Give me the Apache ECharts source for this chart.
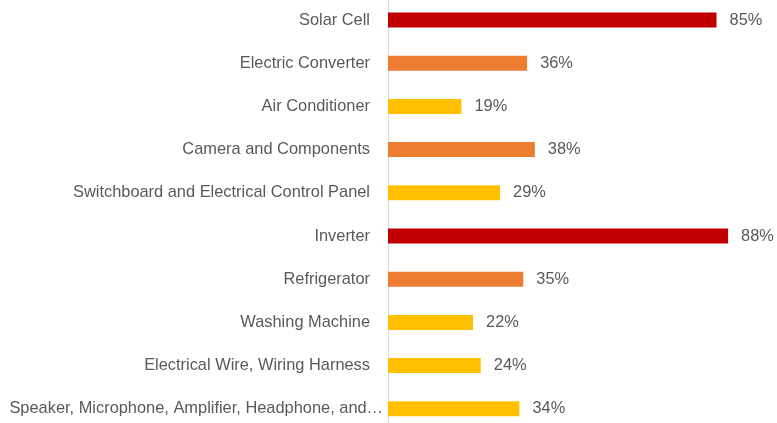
<!DOCTYPE html>
<html>
<head>
<meta charset="utf-8">
<script src="https://cdn.jsdelivr.net/npm/echarts@6/dist/echarts.min.js"></script>
<style>
  html, body { margin: 0; padding: 0; background: #fff; }
  #chart { width: 777px; height: 423px; }
</style>
</head>
<body>
<div id="chart"></div>
<script>
// categories top to bottom
var categories = [
  'Solar Cell',
  'Electric Converter',
  'Air Conditioner',
  'Camera and Components',
  'Switchboard and Electrical Control Panel',
  'Inverter',
  'Refrigerator',
  'Washing Machine',
  'Electrical Wire, Wiring Harness',
  'Speaker, Microphone, Amplifier, Headphone, and\u2026'
];
var shares = [85, 36, 19, 38, 29, 88, 35, 22, 24, 34];
var barColors = ['#C00000', '#ED7D31', '#FFC000', '#ED7D31', '#FFC000',
                 '#C00000', '#ED7D31', '#FFC000', '#FFC000', '#FFC000'];

var font = '"Liberation Sans", Arial, sans-serif';

// the truncated last label sits a little closer to the axis
var yData = categories.map(function (c, i) {
  if (i === categories.length - 1) {
    return { value: c, textStyle: { padding: [0, -13, 0, 0] } };
  }
  return c;
});

var myChart = echarts.init(document.getElementById('chart'));
var option = {
  animation: false,
  grid: {
    left: 388,
    right: 2.5,
    top: -1.6,
    bottom: -7.4,
    containLabel: false,
    outerBoundsMode: 'none'
  },
  xAxis: {
    type: 'value',
    min: 0,
    max: 100,
    show: false
  },
  yAxis: {
    type: 'category',
    data: yData,
    inverse: true,
    axisLine: { show: true, lineStyle: { color: '#D9D9D9', width: 1 } },
    axisTick: { show: false },
    axisLabel: {
      margin: 18,
      color: '#595959',
      fontFamily: font,
      fontSize: 16.4
    }
  },
  series: [{
    type: 'bar',
    barWidth: 15,
    data: shares.map(function (v, i) {
      return { value: v, itemStyle: { color: barColors[i] } };
    }),
    label: {
      show: true,
      position: 'right',
      distance: 13,
      color: '#595959',
      fontFamily: font,
      fontSize: 16.4,
      formatter: '{c}%'
    }
  }]
};
myChart.setOption(option);
</script>
</body>
</html>
